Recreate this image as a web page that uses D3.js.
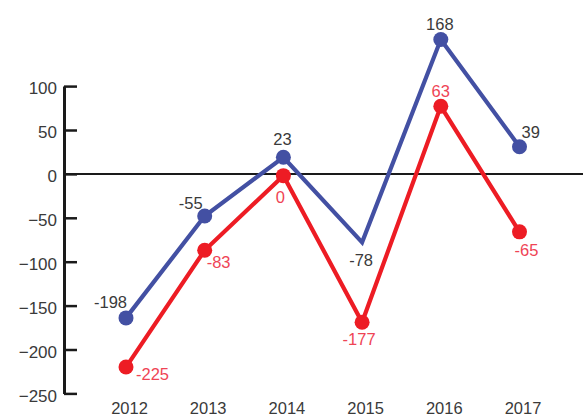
<!DOCTYPE html>
<html>
<head>
<meta charset="utf-8">
<script src="https://cdn.jsdelivr.net/npm/d3@7"></script>
<style>
  html, body { margin: 0; padding: 0; background: #fff; }
  svg { display: block; font-family: "Liberation Sans", Arial, Helvetica, sans-serif; }
</style>
</head>
<body>
<svg id="chart" width="583" height="417"></svg>
<script>
// ---- data ----
const years = ["2012", "2013", "2014", "2015", "2016", "2017"];
const blueValues = [-164, -48, 19, -78, 153, 31];
const blueLabels = ["-198", "-55", "23", "-78", "168", "39"];
const redValues = [-220, -87, -2, -169, 77, -66];
const redLabels = ["-225", "-83", "0", "-177", "63", "-65"];
const yTicks = [100, 50, 0, -50, -100, -150, -200, -250];

// ---- label placement (layout, not data) ----
const bluePlace = [
  { a: "end", dx: 1, dy: -10 }, { a: "end", dx: -2, dy: -7 }, { a: "middle", dx: -1, dy: -12 },
  { a: "middle", dx: -1, dy: 24 }, { a: "middle", dx: -1, dy: -10 }, { a: "start", dx: 2, dy: -9 }
];
const redPlace = [
  { a: "start", dx: 10, dy: 13 }, { a: "start", dx: 2, dy: 18 }, { a: "middle", dx: -3, dy: 27 },
  { a: "middle", dx: -3, dy: 23 }, { a: "middle", dx: 0, dy: -9 }, { a: "middle", dx: 7, dy: 24 }
];

const blueColor = "#4350a3";
const redColor = "#ed1c24";
const redText = "#ef4455";
const darkText = "#3a3a3a";

const svg = d3.select("#chart");
const axisX = 64;

const x = d3.scalePoint().domain(years).range([126, 519.5]);
const y = d3.scaleLinear().domain([-250, 100]).range([393.4, 86.1]);

// y axis
const yAxis = d3.axisLeft(y).tickValues(yTicks).tickSizeInner(-13).tickSizeOuter(0).tickPadding(7);
const gy = svg.append("g").attr("transform", `translate(${axisX},0)`).call(yAxis);
gy.select(".domain").attr("stroke", "#1a1a1a").attr("stroke-width", 3);
gy.selectAll(".tick line").attr("stroke", "#1a1a1a").attr("stroke-width", 2.5);
gy.selectAll(".tick text").attr("font-size", 17).attr("fill", darkText)
  .attr("font-family", "'Liberation Sans', Arial, sans-serif").attr("dy", "0.45em");

// zero line
svg.append("line")
  .attr("x1", axisX).attr("x2", 583)
  .attr("y1", y(0)).attr("y2", y(0))
  .attr("stroke", "#1a1a1a").attr("stroke-width", 2);

// x labels
const xAxis = d3.axisBottom(x).tickSize(0).tickPadding(0);
const gx = svg.append("g").attr("transform", "translate(3,0)").call(xAxis);
gx.select(".domain").remove();
gx.selectAll(".tick text").attr("font-size", 16.5).attr("fill", darkText)
  .attr("font-family", "'Liberation Sans', Arial, sans-serif")
  .attr("y", 413.5).attr("dy", 0);

const line = d3.line().x(d => x(d.year)).y(d => y(d.v));

function series(values, labels, color, place, markerMask) {
  const data = years.map((yr, i) => ({ year: yr, v: values[i], label: labels[i], p: place[i], m: markerMask[i] }));
  svg.append("path").datum(data)
    .attr("d", line).attr("fill", "none")
    .attr("stroke", color).attr("stroke-width", 4.2)
    .attr("stroke-linejoin", "miter");
  svg.append("g").selectAll("circle").data(data.filter(d => d.m)).join("circle")
    .attr("cx", d => x(d.year)).attr("cy", d => y(d.v)).attr("r", 7.5)
    .attr("fill", color);
  return data;
}

const blueData = series(blueValues, blueLabels, blueColor, bluePlace, [1, 1, 1, 0, 1, 1]);
const redData = series(redValues, redLabels, redColor, redPlace, [1, 1, 1, 1, 1, 1]);

function labelsFor(data, color) {
  svg.append("g").selectAll("text").data(data).join("text")
    .attr("x", d => x(d.year) + d.p.dx)
    .attr("y", d => y(d.v) + d.p.dy)
    .attr("text-anchor", d => d.p.a)
    .attr("font-size", 16.5)
    .attr("fill", color)
    .text(d => d.label);
}
labelsFor(blueData, darkText);
labelsFor(redData, redText);
</script>
</body>
</html>
